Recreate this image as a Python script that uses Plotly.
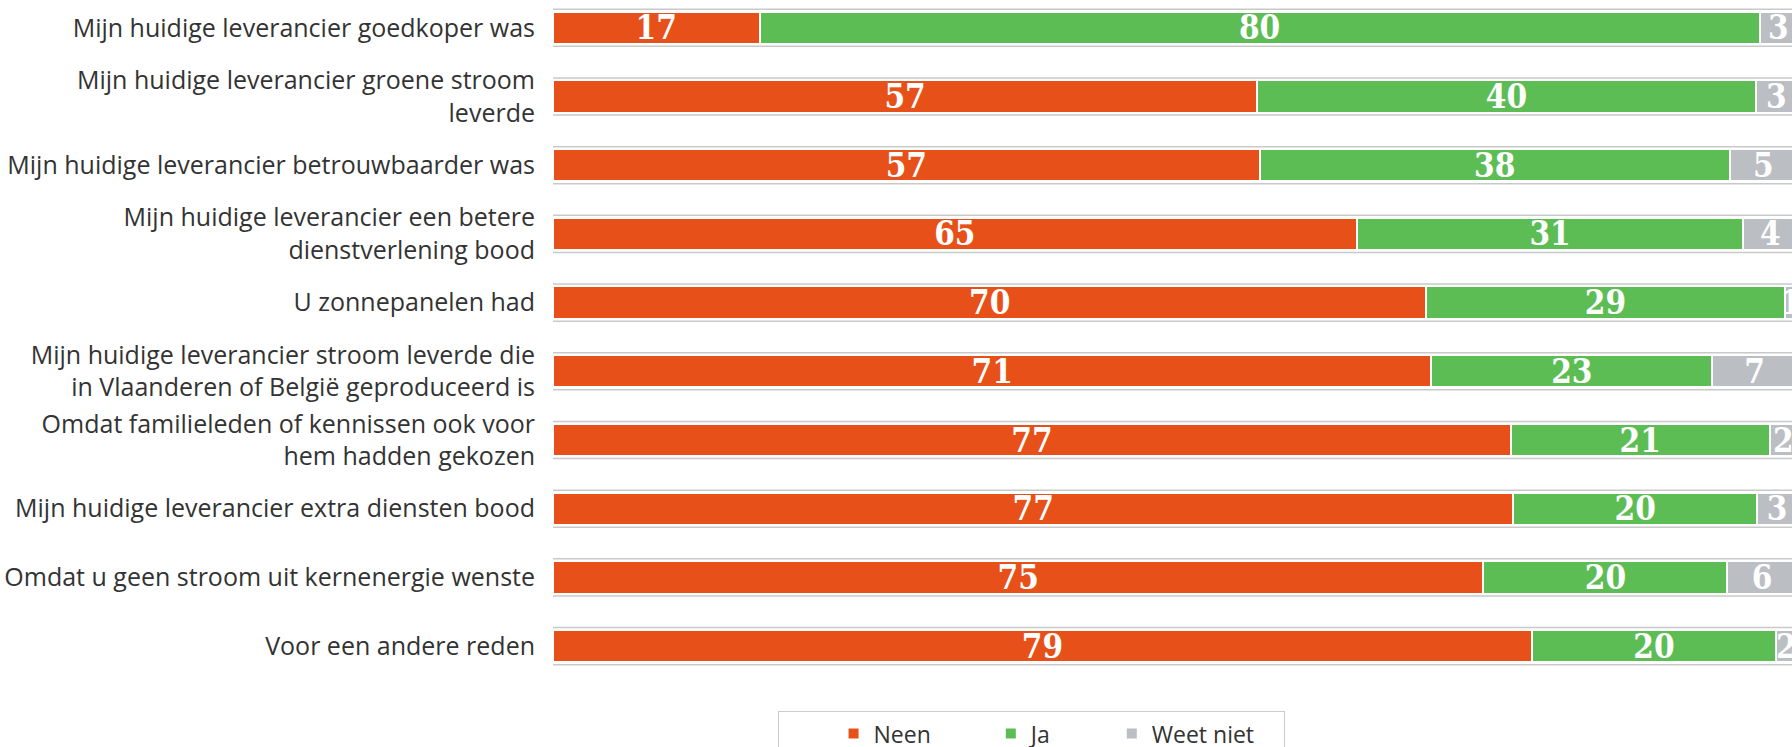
import plotly.graph_objects as go

categories = [
    "Mijn huidige leverancier goedkoper was",
    "Mijn huidige leverancier groene stroom<br>leverde",
    "Mijn huidige leverancier betrouwbaarder was",
    "Mijn huidige leverancier een betere<br>dienstverlening bood",
    "U zonnepanelen had",
    "Mijn huidige leverancier stroom leverde die<br>in Vlaanderen of België geproduceerd is",
    "Omdat familieleden of kennissen ook voor<br>hem hadden gekozen",
    "Mijn huidige leverancier extra diensten bood",
    "Omdat u geen stroom uit kernenergie wenste",
    "Voor een andere reden",
]
# percentages (labels show them rounded)
neen = [16.6, 56.6, 56.8, 64.6, 70.2, 70.6, 77.0, 77.2, 74.8, 78.7]
ja = [80.4, 40.1, 37.8, 31.1, 28.8, 22.6, 20.8, 19.6, 19.6, 19.6]
weet_niet = [3.0, 3.3, 5.4, 4.3, 1.0, 6.8, 2.2, 3.2, 5.6, 1.7]

series_names = ["Neen", "Ja", "Weet niet"]
series_values = [neen, ja, weet_niet]
colors = ["#E8501A", "#5DBD55", "#BBBEC2"]

# trailing no-break spaces so the legend box gets its right padding
legend_pad = [0, 0, 4]

fig = go.Figure()
for name, vals, color, pad in zip(series_names, series_values, colors, legend_pad):
    fig.add_trace(go.Bar(
        y=categories, x=vals, name=name + "\u00a0" * pad, orientation="h",
        marker=dict(color=color, line=dict(color="white", width=2)),
        width=0.47,
        texttemplate="%{x:.0f}", textposition="inside", insidetextanchor="middle",
        textangle=0,
        textfont=dict(family="DejaVu Serif Condensed", size=33, color="white", weight="bold"),
        constraintext="none",
    ))

# light grey frame around every bar row
for i in range(len(categories)):
    fig.add_shape(type="rect", xref="x", yref="y", x0=-0.15, x1=100,
                  y0=i - 0.27, y1=i + 0.27,
                  line=dict(color="#c9c9c9", width=1.5), fillcolor="white",
                  layer="below")

fig.update_layout(
    barmode="stack",
    width=1792, height=747,
    margin=dict(l=553, r=0, t=0, b=60),
    plot_bgcolor="white", paper_bgcolor="white",
    font=dict(family="Open Sans", size=25, color="#333333"),
    uniformtext=dict(minsize=33, mode="show"),
    showlegend=True,
    legend=dict(
        orientation="h", xref="container", yref="container",
        x=0.4339, xanchor="left", y=0.048, yanchor="top",
        bordercolor="#cccccc", borderwidth=1,
        font=dict(family="Open Sans", size=23, color="#333333"),
        indentation=55,
        traceorder="normal",
    ),
)
fig.update_xaxes(range=[0, 99.6], visible=False)
fig.update_yaxes(range=[9.595, -0.405], showgrid=False, zeroline=False,
                 ticks="", ticklabelstandoff=17, automargin=False)

# drop the default page margin so the figure fills the window exactly
fig.write_html("out.html", config={"displayModeBar": False},
               post_script="document.body.style.margin='0';document.body.style.overflow='hidden';")
